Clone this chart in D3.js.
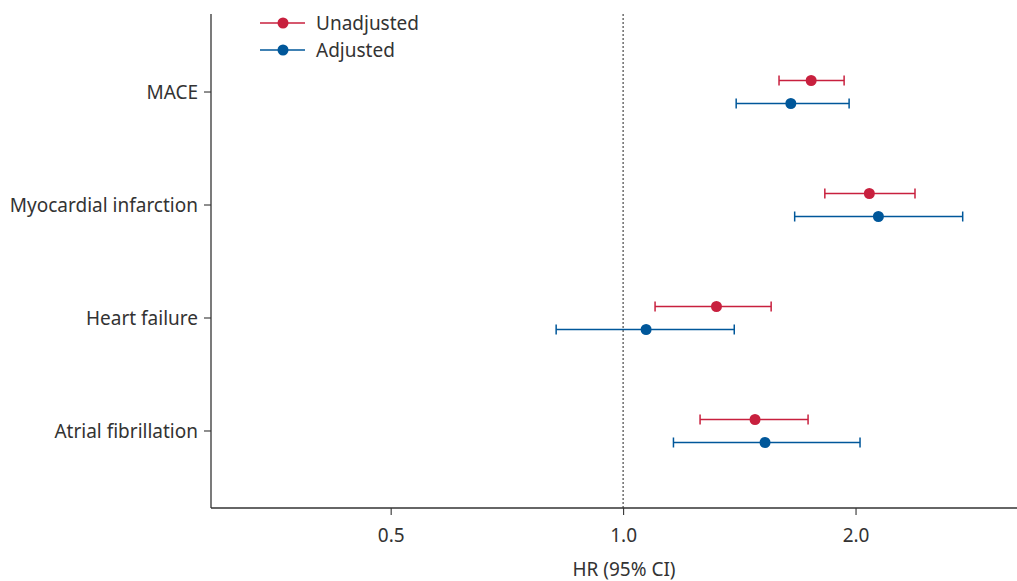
<!DOCTYPE html>
<html><head><meta charset="utf-8">
<script src="https://cdn.jsdelivr.net/npm/d3@7"></script>
<style>body{margin:0;background:#fff}svg{display:block}text{font-family:"Noto Sans",sans-serif;fill:#333}</style>
</head><body><svg id="c" width="1017" height="581"></svg>
<script>
const categories = ["MACE","Myocardial infarction","Heart failure","Atrial fibrillation"];
const seriesNames = ["Unadjusted","Adjusted"];
const unadjHR  = [1.752, 2.084, 1.321, 1.482];
const unadjLow = [1.592, 1.825, 1.100, 1.258];
const unadjHigh= [1.933, 2.388, 1.555, 1.736];
const adjHR    = [1.649, 2.141, 1.071, 1.527];
const adjLow   = [1.401, 1.668, 0.819, 1.162];
const adjHigh  = [1.962, 2.753, 1.393, 2.027];
const xTicks = [0.5, 1.0, 2.0];
const colors = ["#c8203e","#00579a"];

const FONT = "'Noto Sans',sans-serif", FS = 19;
const svg = d3.select("#c");
const L=211, R=1017, T=14, B=508;
const x = d3.scaleLog().domain([0.2926, 3.237]).range([L, R]);
const y = d3.scalePoint().domain(categories).range([T, B]).padding(0.686);
const off = d3.scalePoint().domain(seriesNames).range([-11.5, 11.5]);

// reference line
svg.append("line").attr("x1",x(1)).attr("x2",x(1)).attr("y1",T).attr("y2",B)
  .attr("stroke","#222").attr("stroke-width",1).attr("stroke-dasharray","2,2");

// axes
const xa = svg.append("g").attr("transform",`translate(0,${B})`)
  .call(d3.axisBottom(x).tickValues(xTicks).tickFormat(d3.format(".1f")).tickSize(7).tickPadding(14).tickSizeOuter(0));
const ya = svg.append("g").attr("transform",`translate(${L},0)`)
  .call(d3.axisLeft(y).tickSize(7).tickPadding(6).tickSizeOuter(0));
[xa,ya].forEach(a=>{a.select(".domain").attr("stroke","#333").attr("stroke-width",1.3);
  a.selectAll(".tick line").attr("stroke","#333").attr("stroke-width",1.1);
  a.selectAll(".tick text").attr("font-size",FS).attr("fill","#333").style("font-family",FONT);});
ya.selectAll(".tick text").attr("dy","0.36em");
ya.select(".domain").attr("d",`M0,${T}V${B}`);
xa.select(".domain").attr("d",`M${L},0H${R}`);

svg.append("text").attr("x",624).attr("y",576).attr("text-anchor","middle").attr("font-size",FS).text("HR (95% CI)");

const series = [
  {name:"Unadjusted", hr:unadjHR, lo:unadjLow, hi:unadjHigh},
  {name:"Adjusted", hr:adjHR, lo:adjLow, hi:adjHigh}
];
series.forEach((s,si)=>{
  const g = svg.append("g");
  categories.forEach((c,i)=>{
    const yy = y(c)+off(s.name)+0.5;
    g.append("line").attr("x1",x(s.lo[i])).attr("x2",x(s.hi[i])).attr("y1",yy).attr("y2",yy)
      .attr("stroke",colors[si]).attr("stroke-width",1.5);
    [s.lo[i],s.hi[i]].forEach(v=>g.append("line").attr("x1",x(v)).attr("x2",x(v)).attr("y1",yy-5).attr("y2",yy+5)
      .attr("stroke",colors[si]).attr("stroke-width",1.5));
    g.append("circle").attr("cx",x(s.hr[i])).attr("cy",yy).attr("r",5.5).attr("fill",colors[si]);
  });
});

// legend
const lg = svg.append("g");
seriesNames.forEach((n,i)=>{
  const yy = 23 + i*27;
  lg.append("line").attr("x1",260).attr("x2",305).attr("y1",yy).attr("y2",yy).attr("stroke",colors[i]).attr("stroke-width",1.5);
  lg.append("circle").attr("cx",283).attr("cy",yy).attr("r",5.5).attr("fill",colors[i]);
  lg.append("text").attr("x",316).attr("y",yy).attr("dy","0.35em").attr("font-size",FS).text(n);
});
</script></body></html>
